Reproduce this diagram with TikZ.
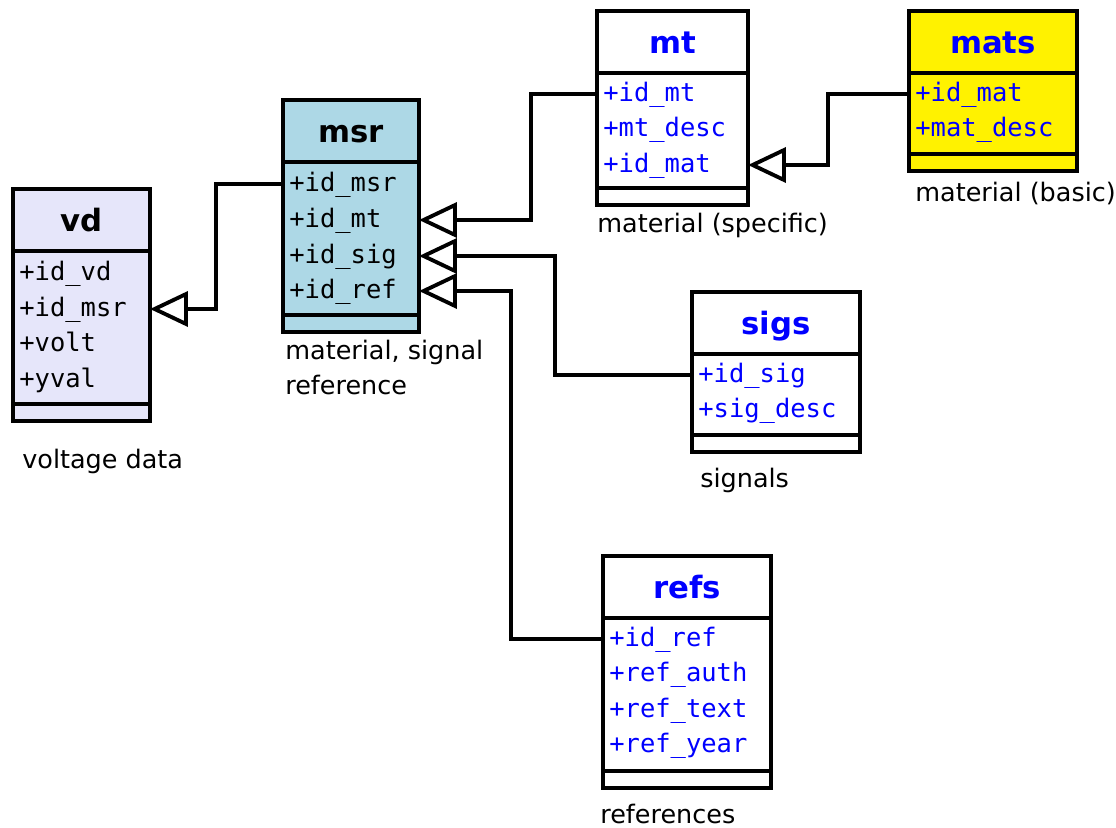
\documentclass[tikz,border=0pt]{standalone}
\usepackage{fontspec}
\setmainfont{DejaVu Sans}
\setmonofont{DejaVu Sans Mono}
\usetikzlibrary{positioning, arrows.meta}
\definecolor{vdfill}{HTML}{E6E6FA}
\definecolor{msrfill}{HTML}{ADD8E6}
\definecolor{keyblue}{HTML}{0000FF}

\tikzset{
  tab/.style={draw, line width=2.2pt, outer sep=0pt, inner sep=0pt, minimum height=0.34cm},
  head/.style={tab, minimum height=1.24cm, font=\bfseries\fontsize{17.5}{20}\selectfont, text height=15pt, text depth=1.4pt},
  attr/.style={anchor=west, inner sep=0pt, font=\ttfamily\fontsize{14.5}{17}\selectfont, text height=10.5pt, text depth=2.5pt},
  tabnote/.style={anchor=base west, inner sep=0pt, font=\fontsize{14.5}{19.8}\selectfont, align=left},
  gen/.style={line width=2.2pt, -{Triangle[open, length=0.76cm, width=0.7cm]}},
}

\begin{document}
\begin{tikzpicture}[x=0.02cm, y=-0.02cm]
  \useasboundingbox (0,0) rectangle (1116,828);

  % voltage data
  \node[head, fill=vdfill, minimum width=2.74cm, anchor=north west] (vd) at (13,189) {vd};
  \node[tab, fill=vdfill, minimum width=2.74cm, minimum height=3.06cm, below=0pt of vd] (vd-a) {};
  \node[tab, fill=vdfill, minimum width=2.74cm, below=0pt of vd-a] (vd-f) {};
  \node[attr] (vd-1) at (19,273) {+id\_vd};
  \node[attr] (vd-2) at (19,309) {+id\_msr};
  \node[attr] (vd-3) at (19,344) {+volt};
  \node[attr] (vd-4) at (19,380) {+yval};
  \node[tabnote] (vd-c) at (22,468) {voltage data};

  % material, signal reference
  \node[head, fill=msrfill, minimum width=2.72cm, anchor=north west] (msr) at (283,100) {msr};
  \node[tab, fill=msrfill, minimum width=2.72cm, minimum height=3.06cm, below=0pt of msr] (msr-a) {};
  \node[tab, fill=msrfill, minimum width=2.72cm, below=0pt of msr-a] (msr-f) {};
  \node[attr] (msr-1) at (289,184) {+id\_msr};
  \node[attr] (msr-2) at (289,220) {+id\_mt};
  \node[attr] (msr-3) at (289,256) {+id\_sig};
  \node[attr] (msr-4) at (289,291) {+id\_ref};
  \node[tabnote] (msr-c) at (285,394) {material, signal\\reference};

  % material (specific)
  \node[head, fill=white, text=keyblue, minimum width=3.02cm, anchor=north west] (mt) at (597,11) {mt};
  \node[tab, fill=white, minimum width=3.02cm, minimum height=2.3cm, below=0pt of mt] (mt-a) {};
  \node[tab, fill=white, minimum width=3.02cm, below=0pt of mt-a] (mt-f) {};
  \node[attr, text=keyblue] (mt-1) at (603,94) {+id\_mt};
  \node[attr, text=keyblue] (mt-2) at (603,129.5) {+mt\_desc};
  \node[attr, text=keyblue] (mt-3) at (603,165) {+id\_mat};
  \node[tabnote] (mt-c) at (597,233) {material (specific)};

  % material (basic)
  \node[head, fill=yellow, text=keyblue, minimum width=3.36cm, anchor=north west] (mats) at (909,11) {mats};
  \node[tab, fill=yellow, minimum width=3.36cm, minimum height=1.62cm, below=0pt of mats] (mats-a) {};
  \node[tab, fill=yellow, minimum width=3.36cm, below=0pt of mats-a] (mats-f) {};
  \node[attr, text=keyblue] (mats-1) at (915,94) {+id\_mat};
  \node[attr, text=keyblue] (mats-2) at (915,129.5) {+mat\_desc};
  \node[tabnote] (mats-c) at (915,201) {material (basic)};

  % signals
  \node[head, fill=white, text=keyblue, minimum width=3.36cm, anchor=north west] (sigs) at (692,292) {sigs};
  \node[tab, fill=white, minimum width=3.36cm, minimum height=1.62cm, below=0pt of sigs] (sigs-a) {};
  \node[tab, fill=white, minimum width=3.36cm, below=0pt of sigs-a] (sigs-f) {};
  \node[attr, text=keyblue] (sigs-1) at (698,375) {+id\_sig};
  \node[attr, text=keyblue] (sigs-2) at (698,410.5) {+sig\_desc};
  \node[tabnote] (sigs-c) at (700,487) {signals};

  % references
  \node[head, fill=white, text=keyblue, minimum width=3.36cm, anchor=north west] (refs) at (603,556) {refs};
  \node[tab, fill=white, minimum width=3.36cm, minimum height=3.06cm, below=0pt of refs] (refs-a) {};
  \node[tab, fill=white, minimum width=3.36cm, below=0pt of refs-a] (refs-f) {};
  \node[attr, text=keyblue] (refs-1) at (609,639) {+id\_ref};
  \node[attr, text=keyblue] (refs-2) at (609,674.5) {+ref\_auth};
  \node[attr, text=keyblue] (refs-3) at (609,710) {+ref\_text};
  \node[attr, text=keyblue] (refs-4) at (609,745.5) {+ref\_year};
  \node[tabnote] (refs-c) at (600,823) {references};

  % links
  \draw[gen] (msr-1.west -| msr-a.west) -- ++(-67,0) |- (vd-2.east -| vd-a.east);
  \draw[gen] (mt-1.west -| mt-a.west) -- ++(-66,0) |- (msr-2.east -| msr-a.east);
  \draw[gen] (sigs-1.west -| sigs-a.west) -- ++(-137,0) |- (msr-3.east -| msr-a.east);
  \draw[gen] (refs-1.west -| refs-a.west) -- ++(-92,0) |- (msr-4.east -| msr-a.east);
  \draw[gen] (mats-1.west -| mats-a.west) -- ++(-81,0) |- (mt-3.east -| mt-a.east);
\end{tikzpicture}
\end{document}
